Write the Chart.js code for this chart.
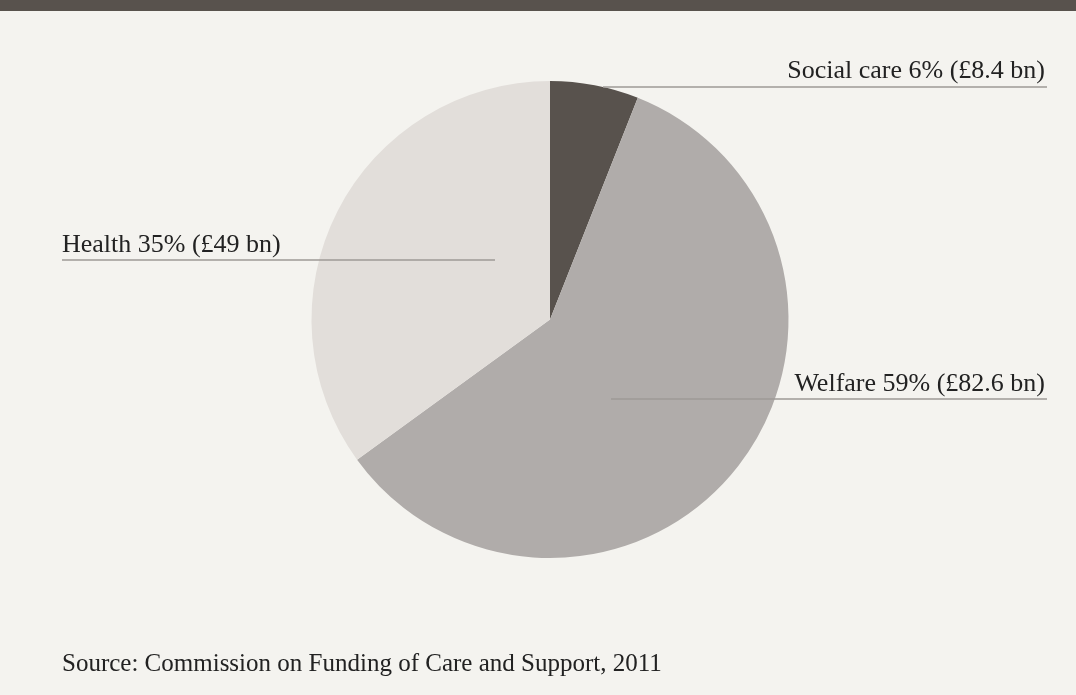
<!DOCTYPE html>
<html>
<head>
<meta charset="utf-8">
<script src="https://cdn.jsdelivr.net/npm/chart.js@4"></script>
<style>
  html, body { margin: 0; padding: 0; background: #f4f3ef; }
  body { width: 1076px; height: 695px; position: relative; overflow: hidden; }
  .topbar { position: absolute; left: 0; top: 0; width: 1076px; height: 11px; background: #58524d; }
  .wrap { position: absolute; left: 0; top: 11px; width: 1076px; height: 684px; }
  .source {
    position: absolute; left: 62px; top: 650px;
    font-family: "Liberation Serif", "DejaVu Serif", serif;
    font-size: 25px; line-height: 25px; color: #222; white-space: nowrap;
  }
</style>
</head>
<body>
<div class="topbar"></div>
<div class="wrap"><canvas id="pie"></canvas></div>
<div class="source">Source: Commission on Funding of Care and Support, 2011</div>
<script>
// Spending on care and support (£ bn)
const categories = ['Social care', 'Welfare', 'Health'];
const values = [8.4, 82.6, 49];
const shares = [6, 59, 35];
const sliceColors = ['#58524d', '#b0acaa', '#e2deda'];

// Label text built from the data
const labels = categories.map((c, i) => `${c} ${shares[i]}% (£${values[i]} bn)`);

// Where each label sits and how far its rule runs (canvas px)
const labelLayout = [
    { align: 'right', textX: 1045, baseline: 67, lineY: 76, x0: 603, x1: 1047 },
    { align: 'right', textX: 1045, baseline: 380, lineY: 388, x0: 611, x1: 1047 },
    { align: 'left', textX: 62, baseline: 241, lineY: 249, x0: 62, x1: 495 }
];

// Draws the callout rules and labels after the slices
const calloutPlugin = {
    id: 'callouts',
    afterDatasetsDraw(chart) {
        const ctx = chart.ctx;
        ctx.save();
        ctx.font = '26px "Liberation Serif", "DejaVu Serif", serif';
        ctx.fillStyle = '#222';
        ctx.strokeStyle = '#9e9a96';
        ctx.lineWidth = 1.5;
        labelLayout.forEach((l, i) => {
            ctx.beginPath();
            ctx.moveTo(l.x0, l.lineY);
            ctx.lineTo(l.x1, l.lineY);
            ctx.stroke();
            ctx.textAlign = l.align;
            ctx.textBaseline = 'alphabetic';
            ctx.fillText(labels[i], l.textX, l.baseline);
        });
        ctx.restore();
    }
};

new Chart(document.getElementById('pie'), {
    type: 'pie',
    data: {
        labels: categories,
        datasets: [{
            data: values,
            backgroundColor: sliceColors,
            borderWidth: 0,
            hoverOffset: 0
        }]
    },
    options: {
        responsive: true,
        maintainAspectRatio: false,
        animation: false,
        events: [],
        layout: { padding: { left: 24, right: 0, top: 70, bottom: 137 } },
        plugins: {
            legend: { display: false },
            tooltip: { enabled: false }
        }
    },
    plugins: [calloutPlugin]
});
</script>
</body>
</html>
